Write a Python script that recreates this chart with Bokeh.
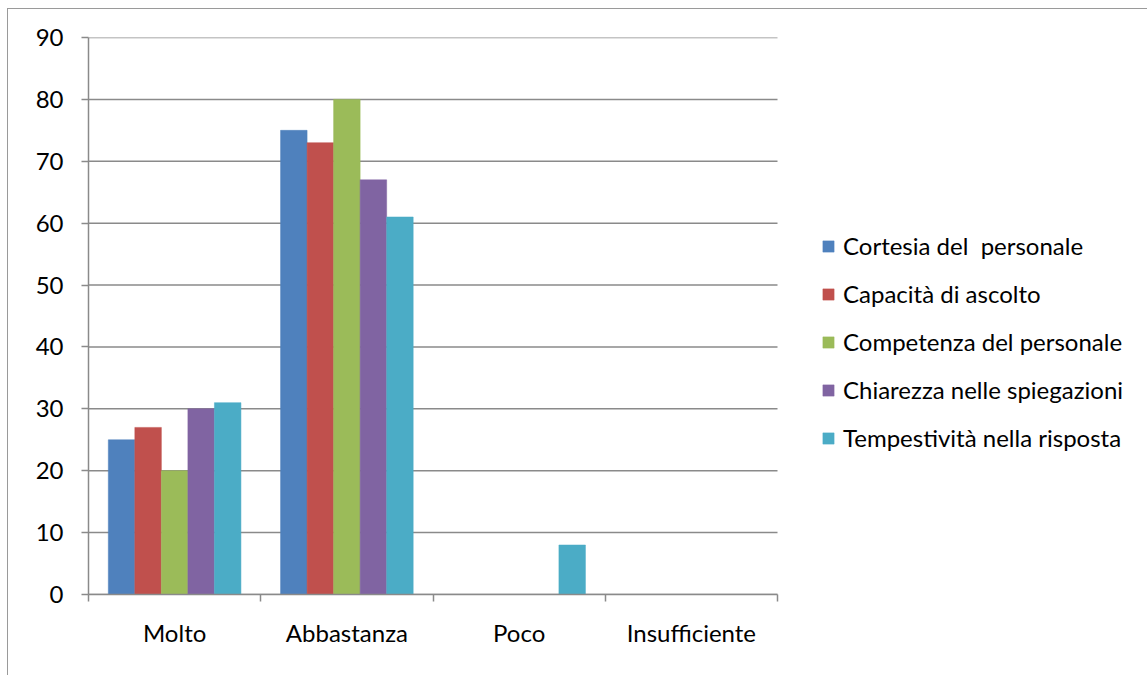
from bokeh.plotting import figure
from bokeh.models import Range1d, FixedTicker, Legend, LegendItem
from bokeh.embed import file_html
from bokeh.resources import INLINE

categories = ["Molto", "Abbastanza", "Poco", "Insufficiente"]
series = ["Cortesia del  personale", "Capacità di ascolto", "Competenza del personale",
          "Chiarezza nelle spiegazioni", "Tempestività nella risposta"]
values = [
    [25, 75, 0, 0],
    [27, 73, 0, 0],
    [20, 80, 0, 0],
    [30, 67, 0, 0],
    [31, 61, 8, 0],
]
colors = ["#4F81BD", "#C0504D", "#9BBB59", "#8064A2", "#4BACC6"]
y_ticks = list(range(0, 100, 10))

FONT = "Lato"
FS = "24px"
GRID = "#8a8a8a"

# The frame spans the whole right side (legend lives inside it);
# the category area occupies 689 of the 1060 frame pixels.
n = len(categories)
x_end = n * 1060 / 689

p = figure(width=1140, height=667, output_backend="svg", toolbar_location=None,
           x_range=Range1d(0, x_end), y_range=Range1d(0, 90),
           min_border_left=80, min_border_right=0, min_border_top=28, min_border_bottom=82)
p.styles = {"margin-left": "7px", "margin-top": "8px",
            "border-left": "1px solid #9a9a9a", "border-top": "1px solid #9a9a9a"}
p.outline_line_color = None
p.background_fill_color = "white"
p.border_fill_color = "white"

# horizontal gridlines limited to the category area
p.segment(x0=[0] * len(y_ticks), x1=[n] * len(y_ticks), y0=y_ticks, y1=y_ticks,
          line_color=GRID, line_width=1.5)

bw = 0.77 / len(series)
items = []
for i, (name, vals, c) in enumerate(zip(series, values, colors)):
    off = (i - (len(series) - 1) / 2) * bw
    xs = [j + 0.5 + off for j in range(n)]
    r = p.vbar(x=xs, top=vals, width=bw, fill_color=c, line_color=c, line_width=0.5)
    items.append(LegendItem(label=name, renderers=[r]))

# x axis: labels at centers, ticks at boundaries (minor)
centers = [j + 0.5 for j in range(n)]
p.xaxis.ticker = FixedTicker(ticks=centers, minor_ticks=list(range(n + 1)))
p.xaxis.bounds = (0, n)
p.xaxis.major_label_overrides = {c: lab for c, lab in zip(centers, categories)}
p.xaxis.major_tick_out = 0
p.xaxis.major_tick_in = 0
p.xaxis.minor_tick_out = 7
p.xaxis.minor_tick_in = 0
p.xaxis.minor_tick_line_color = GRID
p.xaxis.minor_tick_line_width = 1.5
p.xaxis.axis_line_color = GRID
p.xaxis.axis_line_width = 1.5
p.xaxis.major_label_standoff = 16
p.xaxis.major_label_text_font = FONT
p.xaxis.major_label_text_font_size = FS
p.xaxis.major_label_text_color = "black"

p.yaxis.ticker = FixedTicker(ticks=y_ticks, minor_ticks=[])
p.yaxis.major_tick_out = 7
p.yaxis.major_tick_in = 0
p.yaxis.major_tick_line_color = GRID
p.yaxis.major_tick_line_width = 1.5
p.yaxis.minor_tick_line_color = None
p.yaxis.axis_line_color = GRID
p.yaxis.axis_line_width = 1.5
p.yaxis.major_label_standoff = 18
p.yaxis.major_label_text_font = FONT
p.yaxis.major_label_text_font_size = FS
p.yaxis.major_label_text_color = "black"

p.xgrid.grid_line_color = None
p.ygrid.grid_line_color = None

legend = Legend(items=items, location=(733, 142), orientation="vertical")
legend.border_line_color = None
legend.background_fill_alpha = 0
legend.padding = 0
legend.margin = 0
legend.glyph_width = 14
legend.glyph_height = 14
legend.label_height = 28
legend.spacing = 19
legend.label_standoff = 8
legend.label_text_font = FONT
legend.label_text_font_size = FS
legend.label_text_color = "black"
p.add_layout(legend, "center")

open("out.html", "w").write(file_html(p, INLINE))
